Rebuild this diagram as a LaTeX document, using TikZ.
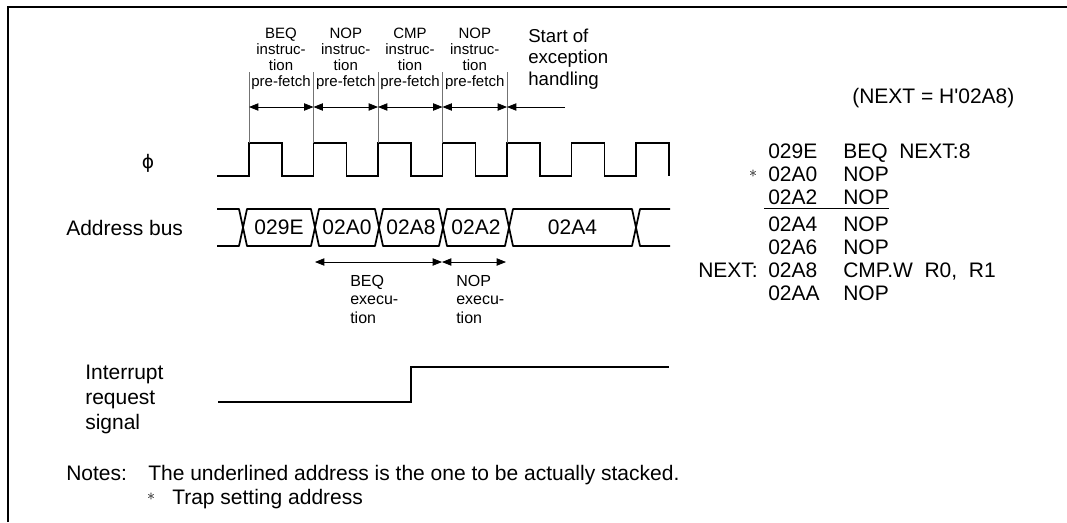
\documentclass[tikz,border=0pt]{standalone}
\usepackage{fontspec}
\setmainfont{Liberation Sans}
\newfontfamily\phifont{DejaVu Sans}
\usetikzlibrary{arrows.meta}

\begin{document}
\begin{tikzpicture}[
    x=0.75pt, y=-0.75pt,
    font=\fontsize{15.75}{18}\selectfont,
    txt/.style={inner sep=0pt, anchor=base west},
    fetch/.style={inner sep=0pt, anchor=north, align=center,
      font=\fontsize{11.25}{12}\selectfont},
    exec/.style={inner sep=0pt, anchor=north west, align=left,
      font=\fontsize{12}{13.9}\selectfont},
    wave/.style={line width=1.3pt},
    bus/.style={wave, line join=round},
    marker/.style={line width=0.6pt, draw=black!55},
    span/.style={line width=0.6pt,
      {Triangle[length=7pt,width=5.5pt]}-{Triangle[length=7pt,width=5.5pt]}},
    tip/.style={line width=0.6pt, -{Triangle[length=7pt,width=5.5pt]}},
    star/.style={inner sep=0pt, font=\fontsize{12}{12}\selectfont}
]
\useasboundingbox (0,0) rectangle (1067,522);
\draw[line width=1.5pt] (8,522) -- (8,7) -- (1067,7);

% signal names
\node[inner sep=0pt, font=\phifont\fontsize{14}{14}\selectfont] (phi) at (148,163) {ϕ};
\node[txt] (abus) at (66,235.5) {Address bus};
\node[inner sep=0pt, anchor=north west, align=left,
  font=\fontsize{15.75}{19}\selectfont] (irq) at (85,364.5)
  {Interrupt\\request\\signal};

% clock
\draw[wave] (217,176) \foreach \x in {249,313.5,378,442.5,507,571.5,636}
  { -- (\x,176) -- (\x,143) -- (\x+33,143) -- (\x+33,176) };

% pre-fetch periods
\foreach \i/\x in {1/249,2/313.5,3/378,4/442.5,5/507} {
  \coordinate (t\i) at (\x,72);
  \coordinate (a\i) at (\x,107);
  \draw[marker] (t\i) -- (\x,143);
}
\foreach \i/\j in {1/2,2/3,3/4,4/5}
  \draw[span] (a\i) -- (a\j);
\coordinate (exc) at (565,107);
\draw[tip] (exc) -- (a5);
\foreach \x/\ins [count=\i] in {281/BEQ,345.75/NOP,410/CMP,474.75/NOP}
  \node[fetch] (f\i) at (\x,27.5) {\ins\\instruc-\\tion\\pre-fetch};
\node[inner sep=0pt, anchor=north west, align=left,
  font=\fontsize{14}{16.1}\selectfont] (exh) at (528,28.3)
  {Start of\\exception\\handling};

% address bus
\draw[bus] (217,209) -- (239,209) -- (243,227.5) -- (239,246) -- (217,246);
\foreach \a/\b/\v [count=\i] in {243/315/029E,315/379/02A0,379/443/02A8,443/509/02A2,509/636/02A4} {
  \draw[bus] (\a,227.5) -- (\a+4,209) -- (\b-4,209) -- (\b,227.5)
    -- (\b-4,246) -- (\a+4,246) -- cycle;
  \node[inner sep=0pt] (v\i) at ({(\a+\b)/2},227.5) {\v};
}
\draw[bus] (670,209) -- (640,209) -- (636,227.5) -- (640,246) -- (670,246);

% execution
\coordinate (e1) at (315,262);
\coordinate (e2) at (442,262);
\coordinate (e3) at (506,262);
\draw[span] (e1) -- (e2);
\draw[span] (e2) -- (e3);
\node[exec] (x1) at (350,275) {BEQ\\execu-\\tion};
\node[exec] (x2) at (456,275) {NOP\\execu-\\tion};

% interrupt request
\coordinate (irq0) at (218,402);
\coordinate (irq1) at (411,402);
\coordinate (irq2) at (669,367);
\draw[wave] (irq0) -- (irq1) |- (irq2);

% program listing
\node[txt] (nxteq) at (852,103.5) {(NEXT = H\textquotesingle 02A8)};
\foreach \y/\adr/\ins [count=\i] in {158.5/029E/{BEQ\ \ NEXT:8},
    181.5/02A0/NOP, 204.5/02A2/NOP, 231.5/02A4/NOP, 254.5/02A6/NOP,
    277.5/02A8/{CMP.W\ \ R0,\ \ R1}, 300.5/02AA/NOP} {
  \node[txt] (adr\i) at (768,\y) {\adr};
  \node[txt] (ins\i) at (843,\y) {\ins};
}
\node[star] (trap) at (753,174) {$\ast$};
\node[txt] (lbnext) at (698,277.5) {NEXT:};
\draw[line width=0.7pt] ([xshift=-3pt,yshift=-2.6pt]adr3.base west)
  -- ([yshift=-2.6pt]ins3.base east);

% notes
\node[txt] (notes) at (66,480.5) {Notes:};
\node[txt] (note1) at (148,480.5)
  {The underlined address is the one to be actually stacked.};
\node[star] (nstar) at (151,497) {$\ast$};
\node[txt] (note2) at (172,504.5) {Trap setting address};
\end{tikzpicture}
\end{document}
